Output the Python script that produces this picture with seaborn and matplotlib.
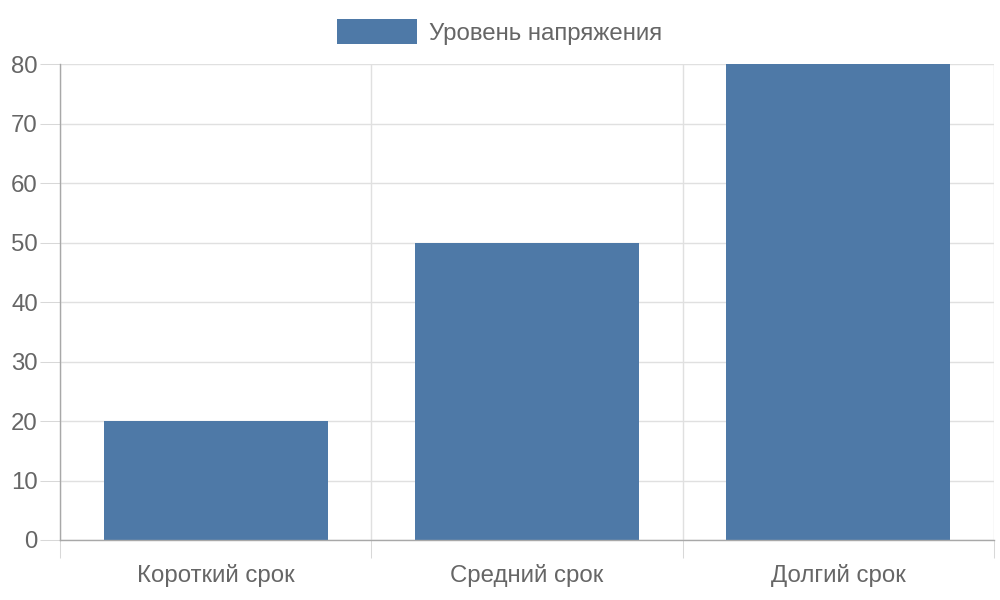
import matplotlib
matplotlib.use("Agg")
import matplotlib.pyplot as plt
import seaborn as sns
import numpy as np

categories = ["Короткий срок", "Средний срок", "Долгий срок"]
values = [20, 50, 80]
series_label = "Уровень напряжения"
y_ticks = [0, 10, 20, 30, 40, 50, 60, 70, 80]

sns.set_style("white")
plt.rcParams['font.family'] = ['Liberation Sans', 'DejaVu Sans']

BAR = "#4e79a7"
GRID = "#e0e0e0"
AXIS = "#a8a8a8"
TEXT = "#666666"
FS = 17.3

fig = plt.figure(figsize=(10, 6), dpi=100)
ax = fig.add_axes([0.060, 0.100, 0.934, 0.7933])

sns.barplot(x=categories, y=values, color=BAR, width=0.72, label=series_label,
            ax=ax, saturation=1, edgecolor="none", linewidth=0)

ax.set_xlim(-0.5, len(categories) - 0.5)
ax.set_ylim(0, 80)
ax.set_yticks(y_ticks)
ax.set_yticklabels([str(v) for v in y_ticks])

bounds = np.arange(len(categories) + 1) - 0.5
ax.set_xticks(bounds, minor=True)
ax.set_xticks(range(len(categories)))
ax.set_xticklabels(categories)

ax.grid(False)
ax.set_axisbelow(True)
for y in y_ticks:
    ax.axhline(y, color=GRID, lw=1, zorder=0)
for b in bounds:
    ax.axvline(b, color=GRID, lw=1, zorder=0)

for s in ["top", "right"]:
    ax.spines[s].set_visible(False)
for s in ["left", "bottom"]:
    ax.spines[s].set_color(AXIS)
    ax.spines[s].set_linewidth(1)
    ax.spines[s].set_zorder(3)

ax.tick_params(axis='y', which='major', left=True, length=14.4, width=0.75,
               color="#d8d8d8", labelsize=FS, labelcolor=TEXT, pad=1.5)
ax.tick_params(axis='x', which='major', bottom=True, length=0, labelsize=FS,
               labelcolor=TEXT, pad=17.5)
ax.tick_params(axis='x', which='minor', bottom=True, length=13, width=0.75,
               color="#d8d8d8")
ax.set_xlabel("")
ax.set_ylabel("")

leg = ax.legend(loc='center', bbox_to_anchor=(0.4995, 0.9467),
                bbox_transform=fig.transFigure, frameon=False,
                handlelength=80 / 24, handleheight=1.2, handletextpad=0.5,
                fontsize=FS, borderpad=0, borderaxespad=0)
for t in leg.get_texts():
    t.set_color(TEXT)

fig.savefig("out.png", dpi=100)
